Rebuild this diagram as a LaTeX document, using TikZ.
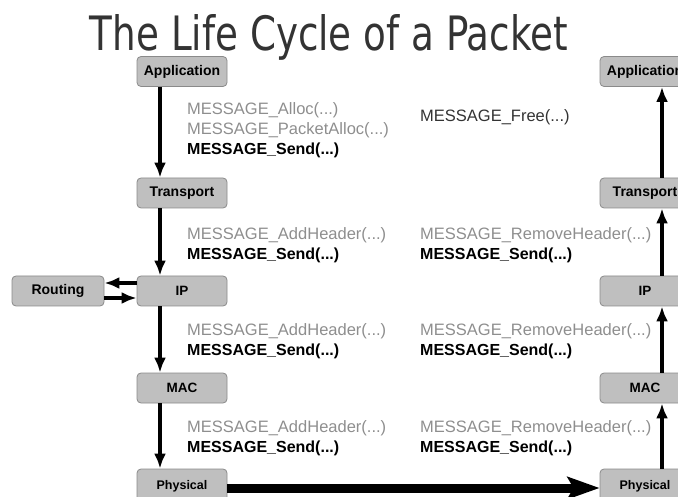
\documentclass[tikz,border=0pt]{standalone}
\usepackage{fontspec}
\setmainfont{Liberation Sans}
\newfontfamily\titlefont{DejaVu Sans}
\usetikzlibrary{arrows.meta}
\definecolor{boxfill}{HTML}{BFBFBF}
\definecolor{boxline}{HTML}{8A8A8A}
\definecolor{callgray}{HTML}{8E8E8E}
\definecolor{titlegray}{HTML}{333333}
\begin{document}
\begin{tikzpicture}[x=1pt,y=-1pt,
  layer/.style={draw=boxline, fill=boxfill, rounded corners=4pt, line width=0.8pt,
    minimum width=90pt, minimum height=30pt, inner sep=0pt, font=\fontsize{14}{16}\selectfont\bfseries},
  small/.style={font=\fontsize{13.5}{15}\selectfont\bfseries},
  tiny/.style={font=\fontsize{12.5}{14}\selectfont\bfseries},
  callg/.style={anchor=west, inner sep=0pt, text=callgray, font=\fontsize{16.5}{18}\selectfont},
  callk/.style={anchor=west, inner sep=0pt, text=black, font=\fontsize{16}{18}\selectfont\bfseries},
  flow/.style={line width=4.5pt, -{Latex[length=15pt,width=12pt]}},
  wire/.style={line width=9pt, -{Stealth[length=32pt,width=22pt,inset=6pt]}}]
\useasboundingbox (0,0) rectangle (678,497);

% title
\node[text=titlegray, inner sep=0pt, anchor=base] (title) at (329,51)
  {\resizebox{478pt}{36pt}{\titlefont The Life Cycle of a Packet}};

% sending stack
\node[layer] (appL) at (182,71.5) {Application};
\node[layer] (trL)  at (182,193) {Transport};
\node[layer] (ipL)  at (182,291) [small] {IP};
\node[layer, minimum width=92pt] (rt) at (58,291) {Routing};
\node[layer] (macL) at (182,388) [small] {MAC};
\node[layer, minimum height=34pt] (phyL) at (182,486) [tiny] {Physical};

% receiving stack
\node[layer] (appR) at (645,71.5) {Application};
\node[layer] (trR)  at (645,193) {Transport};
\node[layer] (ipR)  at (645,291) [small] {IP};
\node[layer] (macR) at (645,388) [small] {MAC};
\node[layer, minimum height=34pt] (phyR) at (645,486) [tiny] {Physical};

% downward flow
\draw[flow] ([xshift=-22pt]appL.south) -- ([xshift=-22pt]trL.north);
\draw[flow] ([xshift=-22pt]trL.south) -- ([xshift=-22pt]ipL.north);
\draw[flow] ([xshift=-22pt]ipL.south) -- ([xshift=-22pt]macL.north);
\draw[flow] ([xshift=-22pt]macL.south) -- ([xshift=-22pt]phyL.north);

% routing exchange
\draw[flow] ([yshift=8pt]ipL.west) -- ([yshift=8pt]rt.east);
\draw[flow] ([yshift=-7pt]rt.east) -- ([yshift=-7pt]ipL.west);

% upward flow
\draw[flow] ([xshift=17pt]phyR.north) -- ([xshift=17pt]macR.south);
\draw[flow] ([xshift=17pt]macR.north) -- ([xshift=17pt]ipR.south);
\draw[flow] ([xshift=17pt]ipR.north) -- ([xshift=17pt]trR.south);
\draw[flow] ([xshift=17pt]trR.north) -- ([xshift=17pt]appR.south);

% physical channel
\draw[wire] ([yshift=-2pt]phyL.east) -- ([yshift=-2pt]phyR.west);

% calls on the sending side
\node[callg] (c1a) at (187,110) {MESSAGE\_Alloc(...)};
\node[callg] (c1b) at (187,130) {MESSAGE\_PacketAlloc(...)};
\node[callk] (c1c) at (187,150) {MESSAGE\_Send(...)};
\node[callg] (c2a) at (187,235) {MESSAGE\_AddHeader(...)};
\node[callk] (c2b) at (187,255) {MESSAGE\_Send(...)};
\node[callg] (c3a) at (187,331) {MESSAGE\_AddHeader(...)};
\node[callk] (c3b) at (187,351) {MESSAGE\_Send(...)};
\node[callg] (c4a) at (187,428) {MESSAGE\_AddHeader(...)};
\node[callk] (c4b) at (187,448) {MESSAGE\_Send(...)};

% calls on the receiving side
\node[callg, text=titlegray] (d1) at (420,117) {MESSAGE\_Free(...)};
\node[callg] (d2a) at (420,235) {MESSAGE\_RemoveHeader(...)};
\node[callk] (d2b) at (420,255) {MESSAGE\_Send(...)};
\node[callg] (d3a) at (420,331) {MESSAGE\_RemoveHeader(...)};
\node[callk] (d3b) at (420,351) {MESSAGE\_Send(...)};
\node[callg] (d4a) at (420,428) {MESSAGE\_RemoveHeader(...)};
\node[callk] (d4b) at (420,448) {MESSAGE\_Send(...)};
\end{tikzpicture}
\end{document}
